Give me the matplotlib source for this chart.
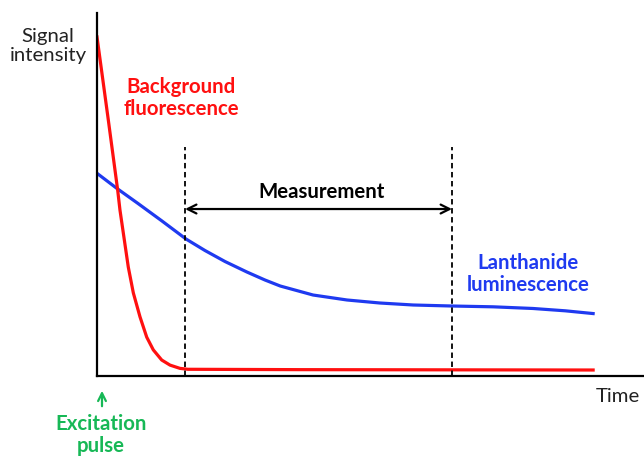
import matplotlib
matplotlib.use("Agg")
import matplotlib.pyplot as plt

plt.rcParams['font.family'] = ['Lato', 'DejaVu Sans']

# Background fluorescence (red) - time, intensity
red_t = [0, 2.07, 3.78, 4.20, 4.81, 5.72, 6.64, 7.86, 9.09, 10.29, 11.83,
         13.35, 15.17, 16.6, 37.1, 90.7]
red_y = [93.4, 70.5, 51.2, 45.7, 39.4, 30.0, 22.9, 16.3, 10.7, 7.2, 4.4,
         3.0, 2.1, 1.85, 1.75, 1.65]

# Lanthanide luminescence (blue)
blue_t = [0, 3.66, 7.50, 11.88, 16.27, 19.74, 23.4, 27.4, 30.7, 33.5, 39.5,
          45.7, 51.7, 57.8, 64.9, 72.4, 79.7, 85.6, 90.7]
blue_y = [55.84, 51.65, 47.52, 42.70, 37.74, 34.57, 31.54, 28.65, 26.45,
          24.79, 22.31, 20.94, 20.11, 19.56, 19.28, 19.06, 18.60, 17.96, 17.2]

# Measurement window
meas_start, meas_end = 16.1, 64.9
window_top = 63.1
arrow_y = 46.0

W, H = 644, 458
fig = plt.figure(figsize=(W / 100, H / 100), dpi=100)
ax = fig.add_axes([97 / W, (H - 376) / H, 547 / W, 363 / H])
ax.set_xlim(0, 100)
ax.set_ylim(0, 100)
for s in ['top', 'right']:
    ax.spines[s].set_visible(False)
for s in ['left', 'bottom']:
    ax.spines[s].set_linewidth(1.6)
    ax.spines[s].set_color('black')
ax.set_xticks([])
ax.set_yticks([])

red = '#ff1010'
blue = '#1f3af0'
green = '#17b856'

ax.plot(blue_t, blue_y, color=blue, lw=2.3, solid_joinstyle='round')
ax.plot(red_t, red_y, color=red, lw=2.3, solid_joinstyle='round')

ax.vlines([meas_start, meas_end], 0, window_top, colors='black',
          linestyles=(0, (3, 2)), lw=1.3)
ax.annotate('', xy=(meas_start, arrow_y), xytext=(meas_end, arrow_y),
            arrowprops=dict(arrowstyle='<->', color='black', lw=1.6,
                            shrinkA=0, shrinkB=0, mutation_scale=16))


def fx(px):
    return px / W


def fy(py):
    return 1 - py / H


fs = 14.7
ls = 1.18
fig.text(fx(48), fy(46), 'Signal\nintensity', ha='center', va='center',
         fontsize=fs, color='#222222', linespacing=ls)
fig.text(fx(181), fy(98), 'Background\nfluorescence', ha='center', va='center',
         fontsize=fs, color=red, fontweight='bold', linespacing=ls)
fig.text(fx(528), fy(274), 'Lanthanide\nluminescence', ha='center', va='center',
         fontsize=fs, color=blue, fontweight='bold', linespacing=ls)
fig.text(fx(322), fy(192), 'Measurement', ha='center', va='center',
         fontsize=fs, color='black', fontweight='bold')
fig.text(fx(618), fy(397), 'Time', ha='center', va='center',
         fontsize=fs, color='#222222')
fig.text(fx(101), fy(435), 'Excitation\npulse', ha='center', va='center',
         fontsize=fs, color=green, fontweight='bold', linespacing=ls)
fig.patches.append(matplotlib.patches.FancyArrowPatch(
    (fx(102), fy(409)), (fx(102), fy(388)), transform=fig.transFigure,
    arrowstyle='->', color=green, lw=1.6, mutation_scale=14))

fig.savefig('out.png', dpi=100)
